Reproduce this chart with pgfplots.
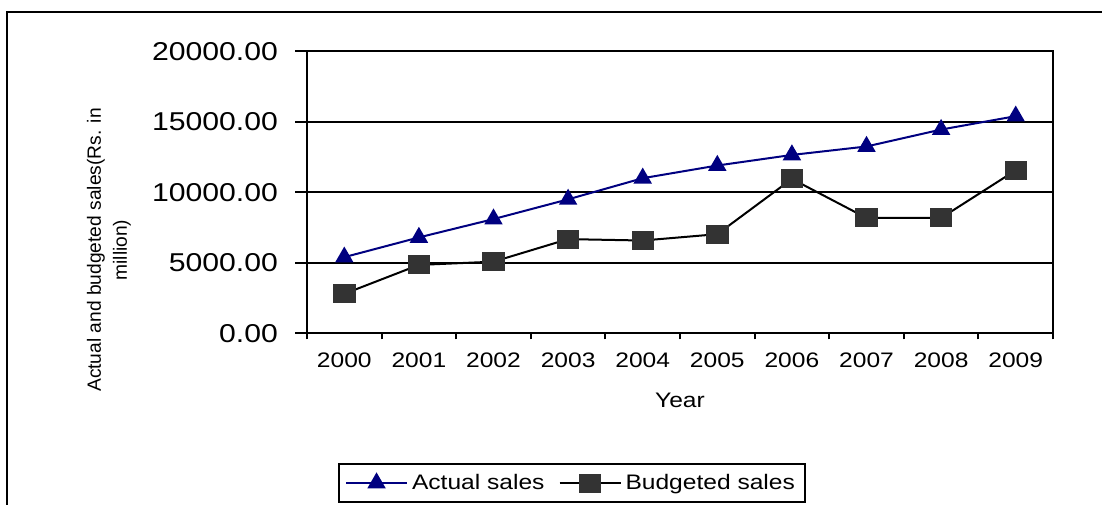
\documentclass[border=0pt]{standalone}
\usepackage{pgfplots}
\pgfplotsset{compat=1.18}
\usepackage{fontspec}
\setmainfont{Liberation Sans}[FakeStretch=1.17]
\newfontfamily\ylabfont{Liberation Sans}
\definecolor{navyblue}{RGB}{0,0,128}
\definecolor{sqgray}{RGB}{51,51,51}
\pgfplotstableread{
x actual budget
0 5400 2800
1 6800 4850
2 8100 5080
3 9500 6680
4 11000 6580
5 11900 7030
6 12650 10950
7 13250 8180
8 14450 8180
9 15400 11560
}\salesdata
\begin{document}
\begin{tikzpicture}
\useasboundingbox (0,0) rectangle (551pt,252pt);
\begin{scope}
\clip (0,0) rectangle (551pt,252pt);
\draw[line width=1pt] (3.5pt,246pt) rectangle (600pt,-20pt);
\end{scope}
\begin{axis}[
  at={(153.5pt,85.35pt)}, anchor=south west,
  scale only axis, width=373pt, height=141pt,
  xmin=-0.5, xmax=9.5, ymin=0, ymax=20000,
  scaled y ticks=false,
  axis line style={line width=1pt},
  tick pos=left, tick align=outside,
  xtick={0,1,2,3,4,5,6,7,8,9},
  xticklabels={2000,2001,2002,2003,2004,2005,2006,2007,2008,2009},
  major x tick style={draw=none},
  minor xtick={-0.5,0.5,1.5,2.5,3.5,4.5,5.5,6.5,7.5,8.5,9.5},
  minor tick length=3pt, major tick length=6pt,
  every tick/.style={line width=1pt, black},
  ytick={0,5000,10000,15000,20000},
  yticklabels={0.00,5000.00,10000.00,15000.00,20000.00},
  ymajorgrids, grid style={line width=1pt, black},
  xticklabel style={font=\fontsize{10.5pt}{12pt}\selectfont},
  yticklabel style={font=\fontsize{12.9pt}{15pt}\selectfont, xshift=-5pt},
  xlabel={Year},
  xlabel style={at={(axis description cs:0.5,-0.2365)}, anchor=center, font=\fontsize{10.5pt}{12pt}\selectfont},
  ylabel={Actual and budgeted sales(Rs. in\\million)},
  ylabel style={at={(axis description cs:-0.2654,0.2954)}, anchor=center, align=center, font=\ylabfont\fontsize{9.6pt}{13pt}\selectfont},
  legend columns=2,
  legend style={at={(axis description cs:0.3552,-0.5309)}, anchor=center, draw=black, line width=1pt,
    font=\fontsize{10.5pt}{12pt}\selectfont, inner xsep=3pt, inner ysep=3pt,
    /tikz/every even column/.append style={column sep=5pt}},
  legend image code/.code={\draw[mark repeat=2,mark phase=2,#1] plot coordinates {(0pt,0pt) (15.25pt,0pt) (30.5pt,0pt)};},
]
\addplot[color=navyblue, line width=1pt, mark=triangle*, mark size=4.33pt, mark options={solid, fill=navyblue, draw=navyblue}] table[x=x, y=actual] {\salesdata};
\addlegendentry{Actual sales}
\addplot[color=black, line width=1pt, mark=square*, mark size=4.25pt, mark options={solid, fill=sqgray, draw=sqgray, xscale=1.2}] table[x=x, y=budget] {\salesdata};
\addlegendentry{Budgeted sales}
\end{axis}
\end{tikzpicture}
\end{document}
